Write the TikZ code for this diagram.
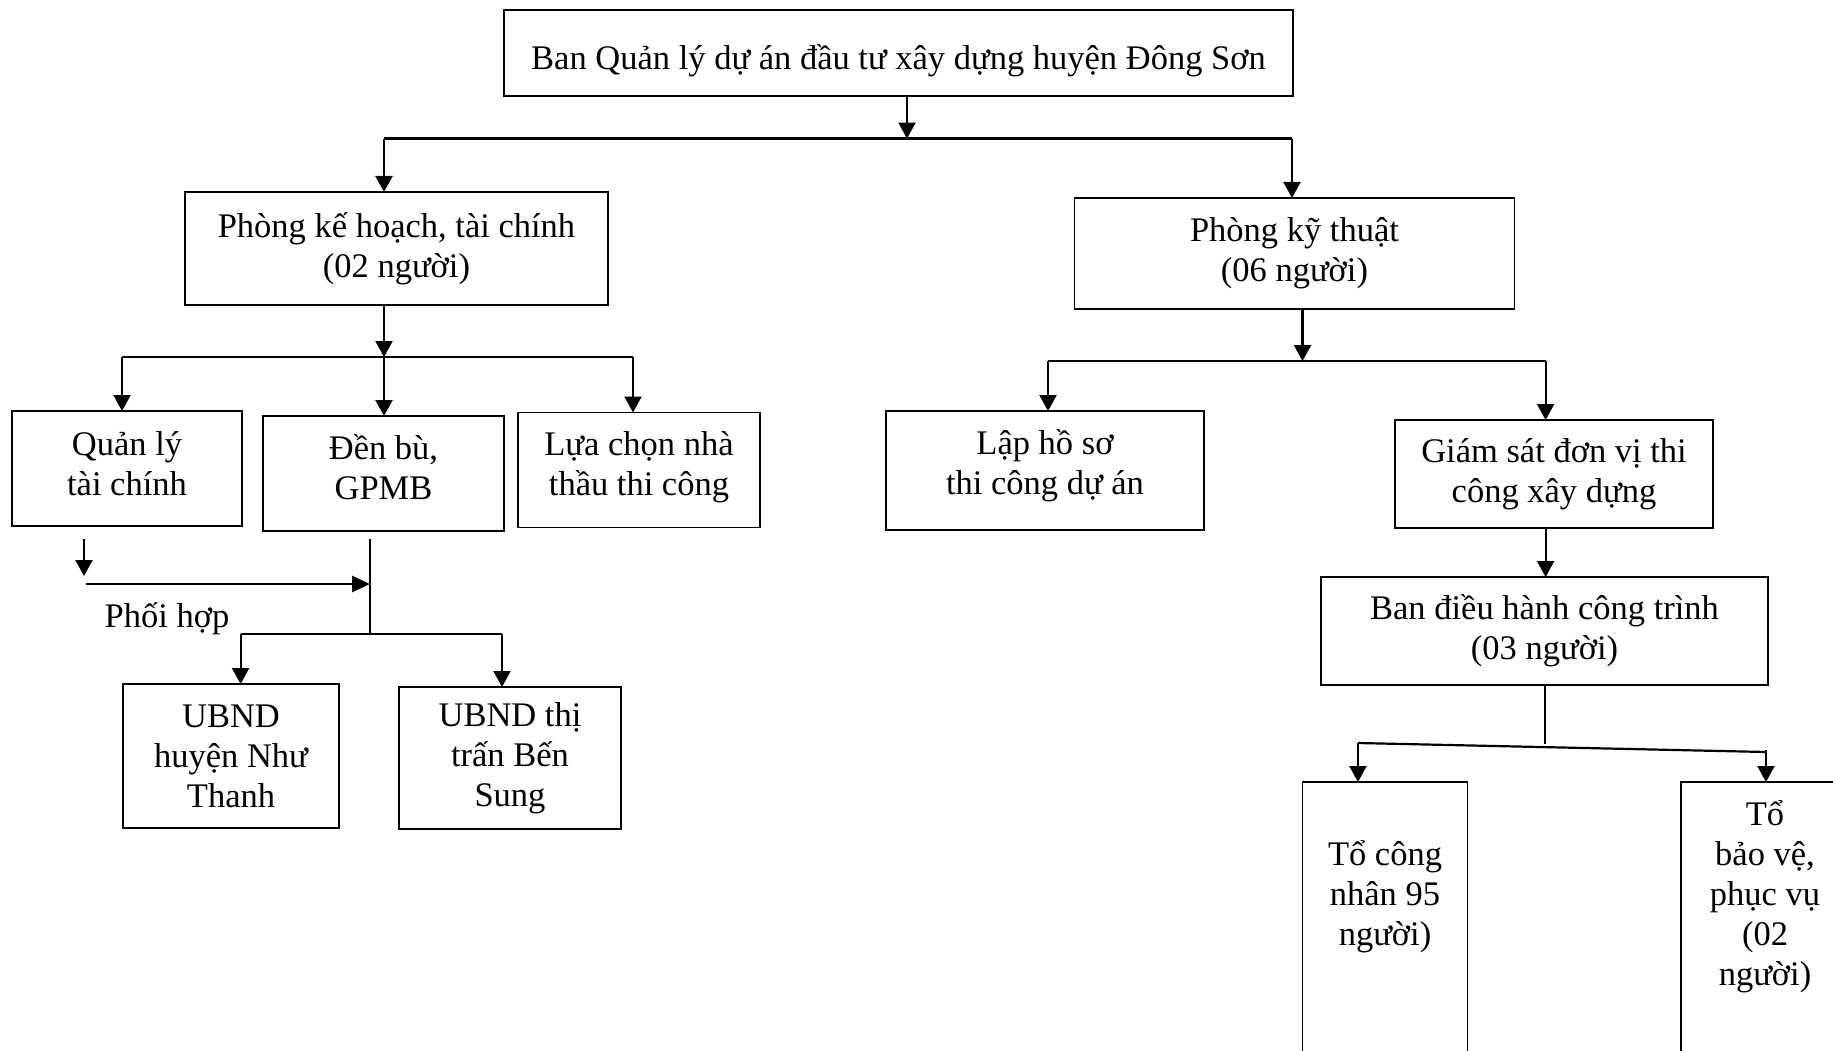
\documentclass[tikz,border=0pt]{standalone}
\usepackage{fontspec}
\setmainfont{Liberation Serif}
\usetikzlibrary{arrows.meta}
\newcommand\dfont{\fontsize{34.5pt}{40pt}\selectfont}
\newcommand\shtxt[2]{\raisebox{#1}[\height][\depth]{\begin{tabular}{@{}c@{}}#2\end{tabular}}}
\tikzset{
  box/.style={draw, line width=1.7pt, inner sep=0pt, outer sep=0pt, align=center, font=\dfont},
  txt/.style={inner sep=0pt, align=center, font=\dfont},
  conn/.style={line width=2.2pt},
  arr/.style={line width=2.2pt, -{Triangle[length=16pt,width=17pt]}},
  thickarr/.style={line width=2.8pt, -{Triangle[length=18pt,width=16pt]}},
  thinline/.style={line width=1.3pt},
}
\begin{document}
\begin{tikzpicture}[x=1pt,y=-1pt]
\useasboundingbox (0,0) rectangle (1833,1051);
\clip (0,0) rectangle (1833,1051);
\fill[white] (0,0) rectangle (1833,1051);

% boxes
\node[box, minimum width=789pt, minimum height=86pt] (top) at (898.5,53) {\shtxt{-9pt}{Ban Quản lý dự án đầu tư xây dựng huyện Đông Sơn}};
\node[box, minimum width=423pt, minimum height=113pt] (pkh) at (396.5,248.5) {Phòng kế hoạch, tài chính\\(02 người)};
\node[box, minimum width=440pt, minimum height=111pt] (pkt) at (1294.5,253.5) {Phòng kỹ thuật\\(06 người)};
\node[box, minimum width=230pt, minimum height=115pt] (qltc) at (127,468.5) {\shtxt{1.5pt}{Quản lý\\tài chính}};
\node[box, minimum width=241pt, minimum height=115pt] (denbu) at (383.5,473.5) {\shtxt{2pt}{Đền bù,\\GPMB}};
\node[box, minimum width=242pt, minimum height=115pt] (luachon) at (639,470) {\shtxt{3pt}{Lựa chọn nhà\\thầu thi công}};
\node[box, minimum width=318pt, minimum height=119pt] (laphs) at (1045,470.5) {\shtxt{4pt}{Lập hồ sơ\\thi công dự án}};
\node[box, minimum width=318pt, minimum height=108pt] (giamsat) at (1554,474) {Giám sát đơn vị thi\\công xây dựng};
\node[box, minimum width=447pt, minimum height=108pt] (bandh) at (1544.5,631) {Ban điều hành công trình\\(03 người)};
\node[box, minimum width=216pt, minimum height=144pt] (ubnd1) at (231,756) {UBND\\huyện Như\\Thanh};
\node[box, minimum width=222pt, minimum height=142pt] (ubnd2) at (510,758) {UBND thị\\trấn Bến\\Sung};
\node[box, minimum width=165pt, minimum height=340pt, anchor=north] (tocn) at (1385,782) {};
\node[txt] (tocnt) at (1385,897) {Tổ công\\nhân 95\\người)};
\node[box, minimum width=168pt, minimum height=340pt, anchor=north] (tobv) at (1765,782) {};
\node[txt] (tobvt) at (1765,897) {Tổ\\bảo vệ,\\phục vụ\\(02\\người)};
\node[txt] (phoihop) at (167,619) {Phối hợp};

% coordinates
\coordinate (b1m) at (907,138.6);
\coordinate (b1l) at (384,138.6);
\coordinate (b1r) at (1292,138.6);
\coordinate (b2m) at (384,357);
\coordinate (b2l) at (122,357);
\coordinate (b2r) at (633,357);
\coordinate (ph1) at (84,539);
\coordinate (ph2) at (84,576);
\coordinate (ph3) at (86,584);
\coordinate (ph4) at (370,584);
\coordinate (v1) at (370,539);
\coordinate (b4m) at (370,634);
\coordinate (b4l) at (240.6,634);
\coordinate (b4r) at (502,634);
\coordinate (b3m) at (1302.5,361);
\coordinate (b3l) at (1048,361);
\coordinate (b3r) at (1545.6,361);
\coordinate (gs) at (1545.6,528);
\coordinate (b5m) at (1545,744);
\coordinate (b5l) at (1358,743);
\coordinate (b5r) at (1766,752);
\coordinate (b5ra) at (1766,750);

% connectors
\draw[arr] (top.south -| b1m) -- (b1m);
\draw[conn] (b1l) -- (b1r);
\draw[arr] (b1l) -- (b1l |- pkh.north);
\draw[arr] (b1r) -- (b1r |- pkt.north);

\draw[arr] (pkh.south -| b2m) -- (b2m);
\draw[conn] (b2l) -- (b2r);
\draw[arr] (b2l) -- (b2l |- qltc.north);
\draw[arr] (b2m) -- (b2m |- denbu.north);
\draw[arr] (b2r) -- (b2r |- luachon.north);

\draw[arr] (ph1) -- (ph2);
\draw[thickarr] (ph3) -- (ph4);
\draw[thinline] (v1) -- (b4m);
\draw[conn] (b4l) -- (b4r);
\draw[arr] (b4l) -- (b4l |- ubnd1.north);
\draw[arr] (b4r) -- (b4r |- ubnd2.north);

\draw[arr] (pkt.south -| b3m) -- (b3m);
\draw[conn] (b3l) -- (b3r);
\draw[arr] (b3l) -- (b3l |- laphs.north);
\draw[arr] (b3r) -- (b3r |- giamsat.north);

\draw[arr] (giamsat.south -| gs) -- (gs |- bandh.north);

\draw[thinline] (bandh.south -| b5m) -- (b5m);
\draw[conn] (b5l) -- (b5r);
\draw[arr] (b5l) -- (b5l |- tocn.north);
\draw[arr] (b5ra) -- (b5ra |- tobv.north);
\end{tikzpicture}
\end{document}
